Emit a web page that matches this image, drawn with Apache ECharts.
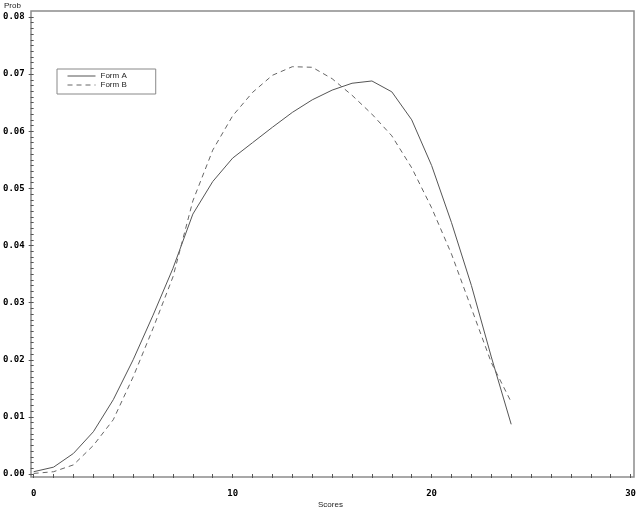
<!DOCTYPE html>
<html>
<head>
<meta charset="utf-8">
<script src="https://cdn.jsdelivr.net/npm/echarts@6/dist/echarts.min.js"></script>
<style>html,body{margin:0;padding:0;background:#fff;}#c{width:639px;height:519px;}</style>
</head>
<body>
<div id="c"></div>
<script>
var scores = [0,1,2,3,4,5,6,7,8,9,10,11,12,13,14,15,16,17,18,19,20,21,22,23,24];
var formA = [0.0004,0.0012,0.0036,0.0074,0.0130,0.0200,0.0278,0.0360,0.0455,0.0512,0.0553,0.0580,0.0607,0.0633,0.0655,0.0672,0.0684,0.0688,0.0669,0.0620,0.0540,0.0440,0.0330,0.0205,0.0087];
var formB = [0.0001,0.0004,0.0016,0.0050,0.0095,0.0170,0.0255,0.0345,0.0478,0.0567,0.0627,0.0668,0.0698,0.0713,0.0712,0.0692,0.0663,0.0630,0.0592,0.0536,0.0466,0.0385,0.0290,0.0195,0.0126];
var seriesNames = ['Form A','Form B'];
var xTitle = 'Scores';
var yTitle = 'Prob';

function pairs(xs, ys){ return xs.map(function(x,i){ return [x, ys[i]]; }); }

var chart = echarts.init(document.getElementById('c'), null, {renderer:'canvas'});
chart.setOption({
  animation:false,
  backgroundColor:'#fff',
  grid:{left:31, right:8, top:17, bottom:45, containLabel:false},
  legend:{
    orient:'vertical', left:57, top:69,
    data:seriesNames,
    borderColor:'#888', borderWidth:1,
    padding:[3,29,5,10],
    itemWidth:28, itemHeight:10, itemGap:1,
    itemStyle:{color:'rgba(0,0,0,0)', borderWidth:0},
    lineStyle:{width:1},
    textStyle:{fontSize:8, color:'#222', fontFamily:'Liberation Sans, Arial, sans-serif'}
  },
  graphic:[
    {type:'rect', shape:{x:31, y:11, width:603, height:466}, style:{fill:'none', stroke:'#8c8c8c', lineWidth:1.5}, silent:true},
    {type:'text', left:4, top:2, style:{text:yTitle, fontSize:8, fill:'#222', fontFamily:'Liberation Sans, Arial, sans-serif'}},
    {type:'text', left:318, top:501, style:{text:xTitle, fontSize:8, fill:'#222', fontFamily:'Liberation Sans, Arial, sans-serif'}}
  ],
  xAxis:{
    type:'value', min:0, max:30, interval:1, offset:3,
    axisLine:{show:false},
    axisTick:{show:true, length:4, lineStyle:{color:'#555'}},
    splitLine:{show:false},
    axisLabel:{
      margin:12,
      formatter:function(v){ return v % 10 === 0 ? String(v) : ''; },
      fontFamily:'DejaVu Sans Mono, monospace', fontWeight:'bold', fontSize:9, color:'#000'
    }
  },
  yAxis:{
    type:'value', min:0, max:0.08, interval:0.01,
    axisLine:{show:false},
    axisTick:{show:true, length:5, lineStyle:{color:'#555'}},
    minorTick:{show:true, splitNumber:10, length:3, lineStyle:{color:'#555'}},
    splitLine:{show:false},
    axisLabel:{
      margin:9,
      formatter:function(v){ return v.toFixed(2); },
      fontFamily:'DejaVu Sans Mono, monospace', fontWeight:'bold', fontSize:9, color:'#000'
    }
  },
  series:[
    {name:seriesNames[0], type:'line', data:pairs(scores, formA), symbol:'none', smooth:false,
     lineStyle:{color:'#555', width:1, type:'solid'}, itemStyle:{color:'#555'}},
    {name:seriesNames[1], type:'line', data:pairs(scores, formB), symbol:'none', smooth:false,
     lineStyle:{color:'#666', width:1, type:[5,4]}, itemStyle:{color:'#666'}}
  ]
});
</script>
</body>
</html>
